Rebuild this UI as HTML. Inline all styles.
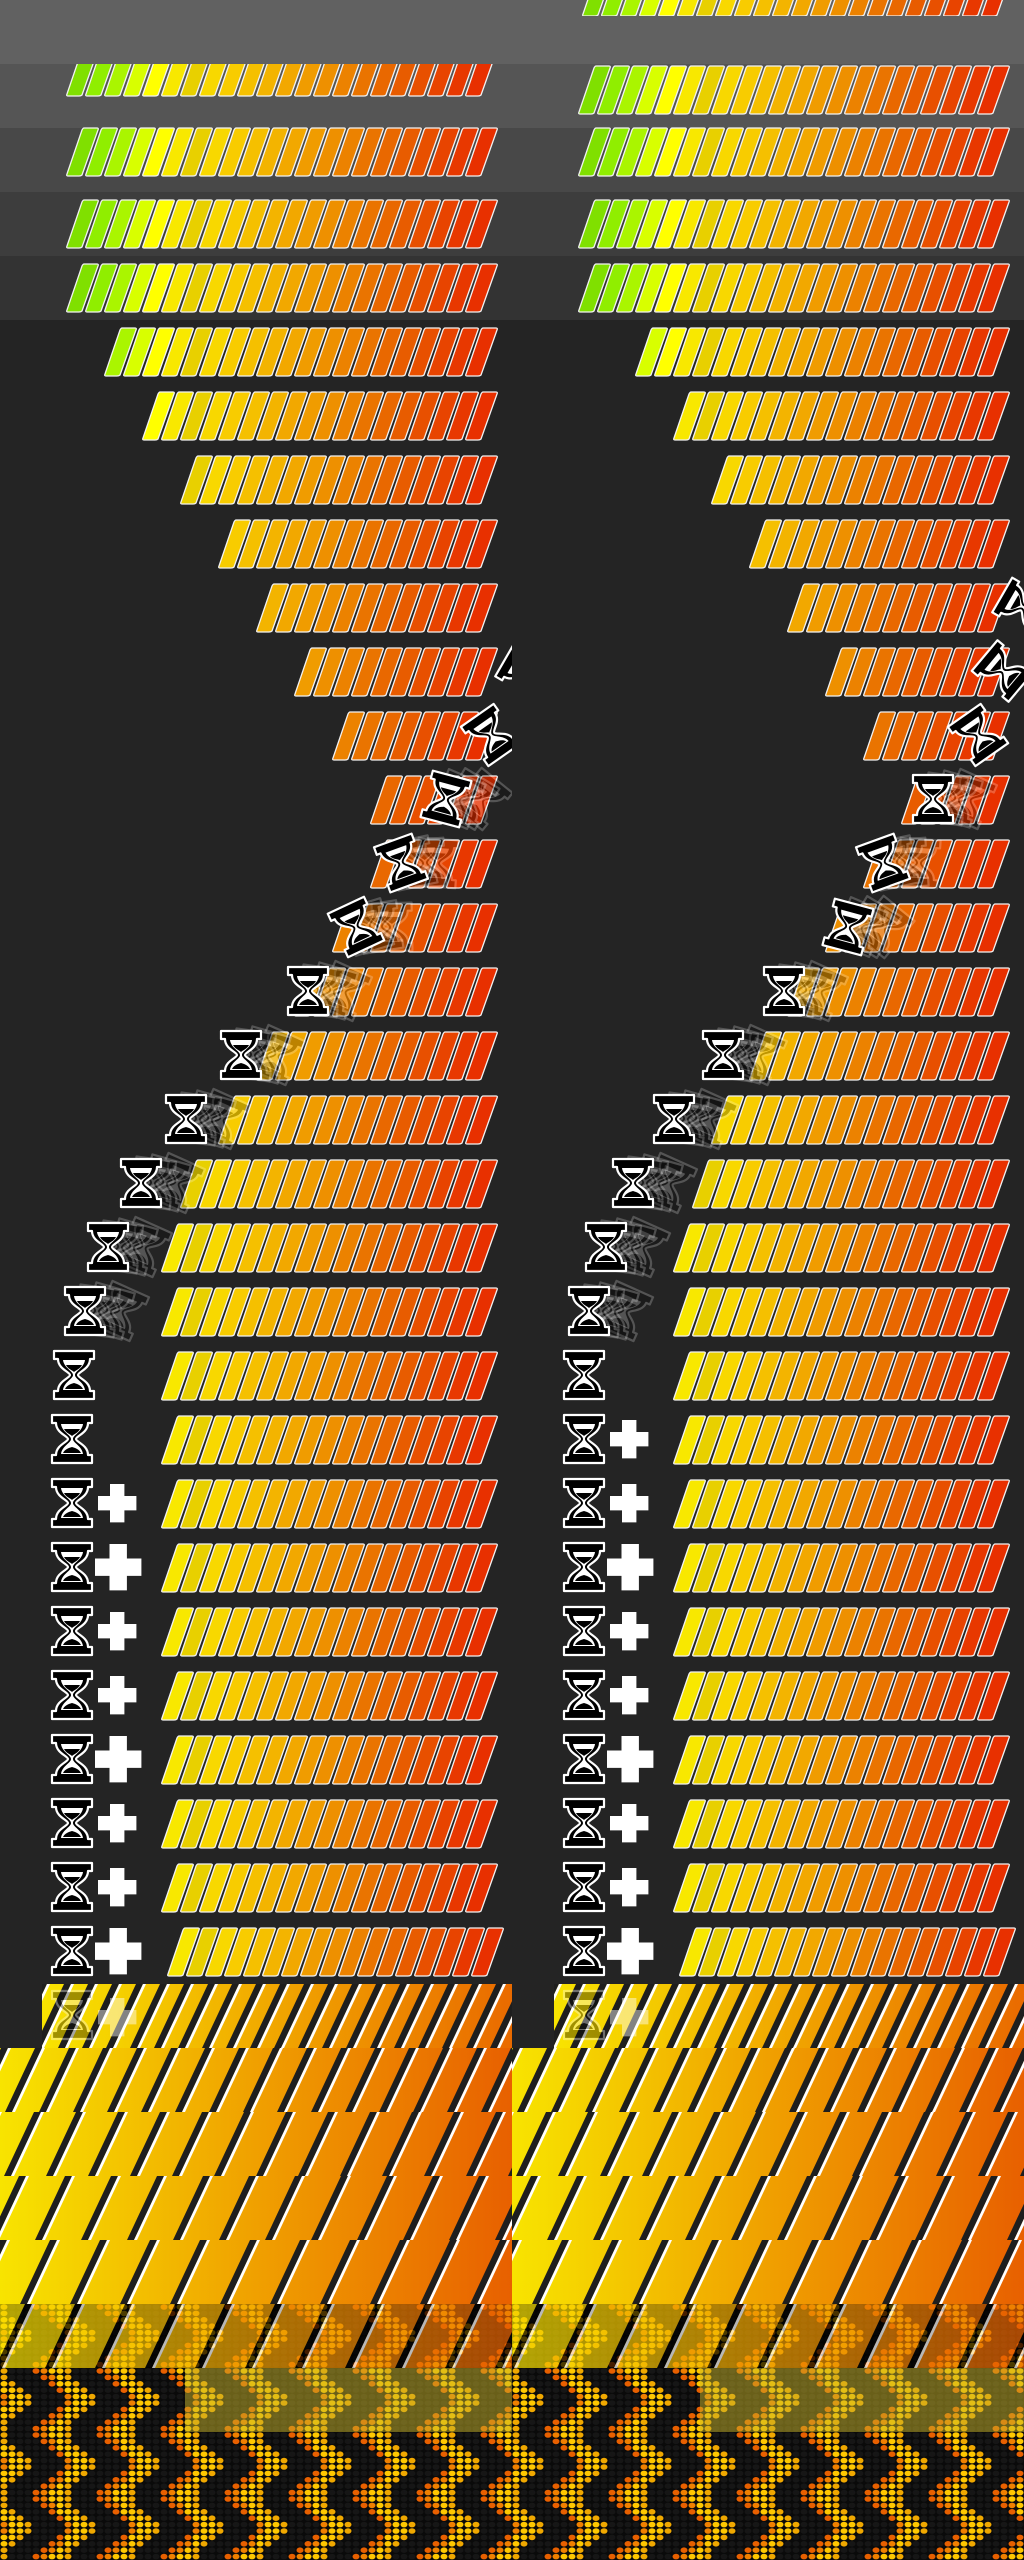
<!DOCTYPE html>
<html><head><meta charset="utf-8"><title>Progress bar sprite sheet</title>
<style>
html,body{margin:0;padding:0;background:#242424;}
svg{display:block;}
</style></head>
<body>
<svg id="sheet" width="1024" height="2560" viewBox="0 0 1024 2560" xmlns="http://www.w3.org/2000/svg">
<defs>
<linearGradient id="stripeGrad" x1="0" x2="1" y1="0" y2="0">
<stop offset="0" stop-color="#f8e400"/><stop offset="0.15" stop-color="#f5d000"/><stop offset="0.5" stop-color="#f0a000"/><stop offset="1" stop-color="#e86000"/>
</linearGradient>
<clipPath id="colL"><rect x="0" y="0" width="512" height="2560"/></clipPath>
<clipPath id="colR"><rect x="512" y="0" width="512" height="2560"/></clipPath>
<g id="hg">
<path d="M1,1 H41 V9 H37 C37,19 25,22 25,25 C25,28 37,31 37,41 H41 V49 H1 V41 H5 C5,31 17,28 17,25 C17,22 5,19 5,9 H1 Z" fill="#000" stroke="#fff" stroke-width="2.2" stroke-linejoin="round"/>
<path d="M10,10 H32 C31,18 22,21 22,25 C22,29 31,32 32,40 H10 C11,32 20,29 20,25 C20,21 11,18 10,10 Z" fill="#fff"/>
<path d="M13,15 H29 C27,19 23,20 21,22 C19,20 15,19 13,15 Z" fill="#000"/>
<path d="M12,39 C14,35 18,34 21,33 C24,34 28,35 30,39 Z" fill="#000"/>
</g>
<path id="plus" d="M10,0 H22 V10 H32 V22 H22 V32 H10 V22 H0 V10 H10 Z" fill="#fff"/>
</defs>
<g id="bg"></g>
<g id="bars"></g>
<g id="dots"></g>
<g id="stripes"></g>
<g id="overlays"></g>
<g id="iconsL" clip-path="url(#colL)"></g>
<g id="iconsR" clip-path="url(#colR)"></g>
</svg>
<script>
// Segment colours (left→right, green→red)
const segColors = ['#80e000','#90ee00','#aaf500','#d8ff00','#ffff00','#f8e800','#e8d000','#f8d800','#f8cc00','#f5c000','#f3b400','#f2a800','#f09c00','#ee9000','#ec8200','#ea7400','#e96800','#e85c00','#e85000','#e84400','#e83800','#e83000'];
// First visible segment index per row (rows 0..30), per column
const leftStart  = [22,0,0,0,0,2,4,6,8,10,12,14,16,16,14,12,10,8,6,5,5,5,5,5,5,5,5,5,5,5,5];
const rightStart = [0,0,0,0,0,3,5,7,9,11,13,15,17,15,13,11,9,7,6,5,5,5,5,5,5,5,5,5,5,5,5];
// Hourglass x positions per row (null = none), and rotation
const leftHgX  = [null,null,null,null,null,null,null,null,null,null,505,470,425,380,335,287,220,165,120,87,64,53,51,51,51,51,51,51,51,51,51,51];
const leftHgRot= [0,0,0,0,0,0,0,0,0,0,-60,-35,15,-20,-25,0,0,0,0,0,0,0,0,0,0,0,0,0,0,0,0,0];
const rightHgX = [null,null,null,null,null,null,null,null,null,490,470,445,400,350,315,251,190,141,100,73,56,51,51,51,51,51,51,51,51,51,51,51];
const rightHgRot=[0,0,0,0,0,0,0,0,0,-60,-50,-35,0,-20,15,0,0,0,0,0,0,0,0,0,0,0,0,0,0,0,0,0];
const ghostRows = [12,13,14,15,16,17,18,19,20];
const leftPlusRows  = [23,24,25,26,27,28,29,30];
const plusBig = [24,27,30];
const rightPlusRows = [22,23,24,25,26,27,28,29,30];
const rowBg = ['#616161','#555555','#484848','#3d3d3d','#333333'];
// Stripe rows: pitch per row
const stripeRows = [31,32,33,34,35,36];
const stripePitch = [24,34,42,46,50,50];
const stripeStartX = [42,0,0,0,0,0];

const NS='http://www.w3.org/2000/svg';
function mk(tag,attrs,parent){const e=document.createElementNS(NS,tag);for(const k in attrs)e.setAttribute(k,attrs[k]);parent.appendChild(e);return e;}
const bg=document.getElementById('bg'),bars=document.getElementById('bars'),stripes=document.getElementById('stripes'),dots=document.getElementById('dots'),overlays=document.getElementById('overlays');
const iconsL=document.getElementById('iconsL'),iconsR=document.getElementById('iconsR');
const ROW=64, PITCH=19, X0=67;
function segX(i){return X0+i*PITCH;}
function rowY(r){return r*ROW;}

for(let c=0;c<2;c++){
  for(let r=0;r<rowBg.length;r++){
    const el=mk('rect',{x:c*512,y:rowY(r),width:512,height:ROW,fill:rowBg[r]},bg);
    
    
  }
}

function segPath(x,y,h,sk,w){
  return `M${x+sk+2},${y} H${x+sk+w} Q${x+sk+w+2},${y} ${x+sk+w+1},${y+2} L${x+w},${y+h-1} Q${x+w-1},${y+h} ${x+w-3},${y+h} H${x+1} Q${x-1},${y+h} ${x},${y+h-2} L${x+sk},${y+2} Q${x+sk+1},${y} ${x+sk+2},${y} Z`;
}
function drawBar(colX,r,start){
  let yo = r===1?-16:(r===2?0:8);
  if(colX>0 && r===1) yo=2;
  const y=rowY(r)+yo, h=48, sk=15, w=15;
  const g=mk('g',{},bars);
  
  
  if(r===1 && colX===0){const cp=mk('clipPath',{id:'cp'+r+colX},g);mk('rect',{x:0,y:64,width:512,height:64},cp);g.setAttribute('clip-path','url(#cp'+r+colX+')');}
  const extra = r===30?6:0;
  for(let i=start;i<segColors.length;i++){
    const x=colX+segX(i)+extra;
    const p=mk('path',{d:segPath(x,y,h,sk,w),fill:segColors[i],stroke:'#f2f2f2','stroke-width':1.3},g);
    
    
  }
}
for(let r=0;r<=30;r++){
  if(r===0){
    const g=mk('g',{},bars);
    const cp=mk('clipPath',{id:'cpTop'},g);mk('rect',{x:512,y:0,width:512,height:16},cp);
    g.setAttribute('clip-path','url(#cpTop)');
    
    
    for(let i=0;i<segColors.length;i++){
      const x=512+segX(i)+4;
      const p=mk('path',{d:segPath(x,-32,48,15,15),fill:segColors[i],stroke:'#f2f2f2','stroke-width':1.3},g);
      
      
    }
    continue;
  }
  drawBar(0,r,leftStart[r]);
  drawBar(512,r,rightStart[r]);
}

// dot rows (behind row 36 stripes too)
const under=mk('rect',{x:0,y:2304,width:1024,height:256,fill:'#0a0a0a'},bg);


for(let y=2304+3;y<2560;y+=6.4){
  for(let x=4;x<1024;x+=8){
    const ly=(y-2304)%64, lx=x%64;
    const d=((lx + Math.abs(ly-32)) % 64);
    let fill='#161616';
    if(d<34) fill = d<6?'#e86000':(d<12?'#f08000':(d<26?'#ffc800':'#f0a800'));
    const e=mk('ellipse',{cx:x,cy:y,rx:3.5,ry:2.8,fill:fill},dots);
    
    
  }
}

// stripe rows
for(let c=0;c<2;c++){
  stripeRows.forEach((r,k)=>{
    const y=rowY(r), h=ROW;
    const x0=c*512+stripeStartX[k];
    const g=mk('g',{},stripes);
    
    
    const cp=mk('clipPath',{id:'sc'+c+'_'+r},g);
    mk('rect',{x:x0,y:y,width:c*512+512-x0,height:h},cp);
    g.setAttribute('clip-path','url(#sc'+c+'_'+r+')');
    if(r===36) g.setAttribute('opacity','0.7');
    const base=mk('rect',{x:x0,y:y,width:512,height:h,fill:'url(#stripeGrad)'},g);
    
    
    const p=stripePitch[k], off=(k%2)*p/2;
    for(let sx=x0-80+off; sx<c*512+560; sx+=p){
      const bk=mk('path',{d:`M${sx},${y+h} L${sx+30},${y} H${sx+37} L${sx+7},${y+h} Z`,fill:r===36?'#000':'#1e1e1e'},g);
      
      
      const wl=mk('path',{d:`M${sx+7},${y+h} L${sx+37},${y} H${sx+40} L${sx+10},${y+h} Z`,fill:'#ffffff'},g);
      
      
    }
  });
}
// translucent overlay on row 37
[[185,2368,327],[700,2368,324]].forEach(o=>{
  const e=mk('rect',{x:o[0],y:o[1],width:o[2],height:64,fill:'rgba(200,180,40,0.5)'},overlays);
  
  
});

// hourglass icons
function drawHg(parent,x,y,rot,op){
  const u=mk('use',{href:'#hg',transform:`translate(${x},${y}) rotate(${rot},21,25)`,opacity:op},parent);
  
  
}
function drawGhosts(parent,x,y,rot){
  for(let k=3;k>=1;k--){
    const u=mk('use',{href:'#hg',transform:`translate(${x+k*12},${y}) rotate(${rot+k*8},21,25)`,opacity:0.22},parent);
    
    
  }
}
for(let r=0;r<leftHgX.length;r++){
  const op=r===31?0.35:1;
  if(ghostRows.indexOf(r)>=0){
    drawGhosts(iconsL,leftHgX[r],rowY(r)+6,leftHgRot[r]);
    drawGhosts(iconsR,512+rightHgX[r],rowY(r)+6,rightHgRot[r]);
  }
  if(leftHgX[r]!==null) drawHg(iconsL,leftHgX[r],rowY(r)+6,leftHgRot[r],op);
  if(rightHgX[r]!==null) drawHg(iconsR,512+rightHgX[r],rowY(r)+6,rightHgRot[r],op);
}
function big(r){return plusBig.indexOf(r)>=0;}
function drawPlus(parent,x,y,isBig,op){
  const s=isBig?1.45:1.2;
  const u=mk('use',{href:'#plus',transform:`translate(${x},${y}) scale(${s})`,opacity:op},parent);
  
  
}
leftPlusRows.forEach(r=>drawPlus(iconsL,big(r)?95:98,rowY(r)+(big(r)?8:12),big(r),1));
rightPlusRows.forEach(r=>drawPlus(iconsR,512+(big(r)?95:98),rowY(r)+(big(r)?8:12),big(r),1));
drawPlus(iconsL,98,rowY(31)+14,false,0.45);
drawPlus(iconsR,610,rowY(31)+14,false,0.45);
</script>
</body></html>
